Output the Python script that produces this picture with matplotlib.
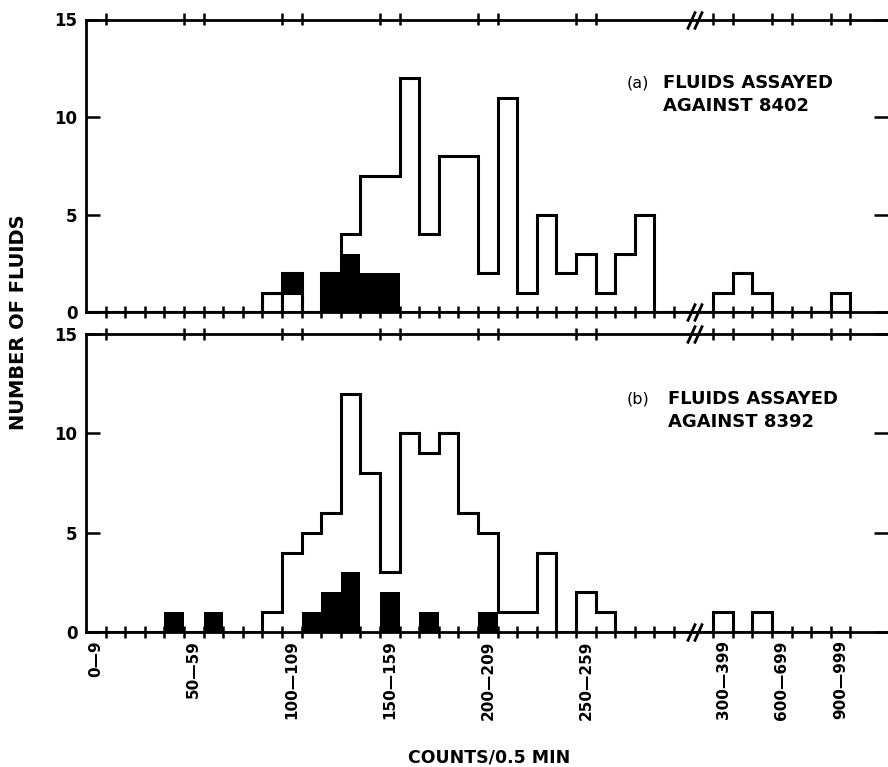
import matplotlib.pyplot as plt
import numpy as np

plt.rcParams['font.family'] = ['DejaVu Sans']

# bins of 10 counts (0-9 ... 290-299), two empty slots for the axis break,
# then bins of 100 counts (300-399 ... 900-999)
n_bins = 39
edges = np.arange(n_bins + 1)

# (a) fluids assayed against 8402
total_a = [0, 0, 0, 0, 0, 0, 0, 0, 0, 1, 2, 0, 2, 4, 7, 7, 12, 4, 8, 8,
           2, 11, 1, 5, 2, 3, 1, 3, 5, 0, 0, 0, 1, 2, 1, 0, 0, 0, 1]
black_a = [0, 0, 0, 0, 0, 0, 0, 0, 0, 1, 2, 0, 2, 3, 2, 2, 0, 0, 0, 0,
           0, 0, 0, 0, 0, 0, 0, 0, 0, 0, 0, 0, 0, 0, 0, 0, 0, 0, 0]
hollow_a = [0, 0, 0, 0, 0, 0, 0, 0, 0, 1, 1, 0, 0, 0, 0, 0, 0, 0, 0, 0,
            0, 0, 0, 0, 0, 0, 0, 0, 0, 0, 0, 0, 0, 0, 0, 0, 0, 0, 0]

# (b) fluids assayed against 8392
total_b = [0, 0, 0, 0, 0, 0, 0, 0, 0, 1, 4, 5, 6, 12, 8, 3, 10, 9, 10, 6,
           5, 1, 1, 4, 0, 2, 1, 0, 0, 0, 0, 0, 1, 0, 1, 0, 0, 0, 0]
black_b = [0, 0, 0, 0, 1, 0, 1, 0, 0, 0, 0, 1, 2, 3, 0, 2, 0, 1, 0, 0,
           1, 0, 0, 0, 0, 0, 0, 0, 0, 0, 0, 0, 0, 0, 0, 0, 0, 0, 0]

label_bins = [0, 5, 10, 15, 20, 25, 32, 35, 38]
label_text = ['0—9', '50—59', '100—109', '150—159', '200—209', '250—259',
              '300—399', '600—699', '900—999']
break_x = 31.05

fig = plt.figure(figsize=(8.88, 7.67), dpi=100)
W, H = 888, 767
x0 = 86
bw = 19.6
xmax = (W - x0) / bw


def make_axes(top_px, bottom_px):
    return fig.add_axes([x0 / W, 1 - bottom_px / H, (W - x0) / W,
                         (bottom_px - top_px) / H])


ax_a = make_axes(19.5, 312)
ax_b = make_axes(334, 632)

panels = [
    (ax_a, total_a, black_a, hollow_a, '(a)', 'AGAINST 8402', 29.45),
    (ax_b, total_b, black_b, None, '(b)', 'AGAINST 8392', 29.7),
]

top_ticks = sorted(set(label_bins + [b + 1 for b in label_bins]) - {0})
bottom_ticks = [e for e in range(1, n_bins + 1) if e != 31]

for ax, total, black, hollow, tag, line2, tx in panels:
    ax.bar(edges[:-1], black, width=1, align='edge', color='black', lw=0, zorder=2)
    if hollow is not None:
        ax.bar(edges[:-1], hollow, width=1, align='edge', facecolor='white',
               edgecolor='black', lw=2.2, zorder=3)
    ax.stairs(total, edges, color='black', lw=2.2, zorder=4)

    ax.set_xlim(0, xmax)
    ax.set_ylim(0, 15)
    ax.spines['right'].set_visible(False)
    for s in ['left', 'top', 'bottom']:
        ax.spines[s].set_linewidth(2.0)

    ax.set_yticks([0, 5, 10, 15])
    ax.tick_params(axis='y', direction='in', length=10, width=1.8,
                   right=True, labelsize=12, pad=6)
    for t in ax.get_yticklabels():
        t.set_fontweight('bold')

    ax.set_xticks(bottom_ticks)
    ax.set_xticklabels([])
    ax.tick_params(axis='x', direction='inout', length=8, width=1.8)

    sec = ax.secondary_xaxis('top')
    sec.set_xticks(top_ticks)
    sec.set_xticklabels([])
    sec.tick_params(direction='inout', length=8, width=1.8)
    sec.spines['top'].set_visible(False)

    # axis break marks on both horizontal spines
    for yy in (0, 1):
        for dx in (-0.18, 0.18):
            ax.plot([break_x + dx], [yy], transform=ax.get_xaxis_transform(),
                    marker=[(-0.45, -1), (0.45, 1)], markersize=13,
                    markeredgewidth=2.0, color='black', clip_on=False, zorder=6)

    ax.text(27.6, 11.75, tag, fontsize=11.5, va='center', ha='left')
    ax.text(tx, 11.75, 'FLUIDS ASSAYED', fontsize=13, fontweight='bold',
            va='center', ha='left')
    ax.text(tx, 10.55, line2, fontsize=13, fontweight='bold',
            va='center', ha='left')

ax_b.set_xticks([b + 0.5 for b in label_bins], minor=True)
ax_b.set_xticklabels(label_text, minor=True, rotation=90, fontsize=11,
                     fontweight='bold', va='top', ha='center')
ax_b.tick_params(axis='x', which='minor', length=0, pad=6)

fig.text(19 / W, 1 - 322 / H, 'NUMBER OF FLUIDS', rotation=90, fontsize=14,
         fontweight='bold', ha='center', va='center')
fig.text(489 / W, 1 - 757 / H, 'COUNTS/0.5 MIN', fontsize=12.5,
         fontweight='bold', ha='center', va='center')

fig.savefig('out.png', dpi=100)
